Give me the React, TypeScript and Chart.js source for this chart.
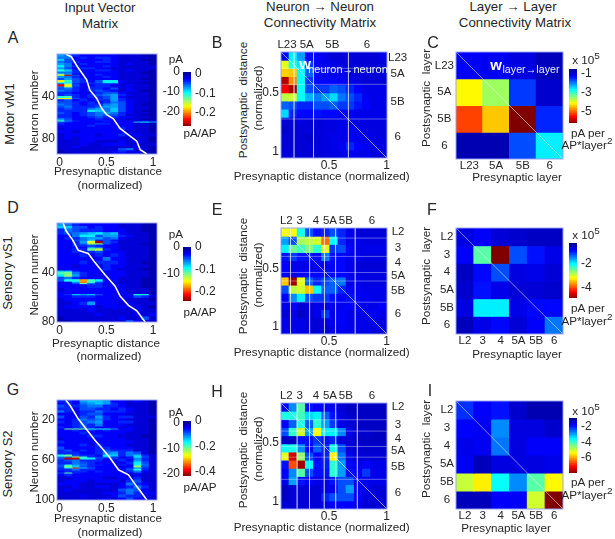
import React, { useEffect, useRef } from "react";
import { Chart, registerables } from "chart.js";

Chart.register(...registerables);

const FONT = '"Liberation Sans", Arial, sans-serif';
const INK = "#262626";

// ---------- DATA ----------
// Input vector matrices: [number of neurons in the band, one letter per presynaptic bin]. a = 0 ... z = 1 of the colour range.
const inputA: [number, string][] = [
  [2, "hgedddddcccbb"], [2, "ggdedeedccccb"], [2, "ifddddedcccbb"], [2, "gfeddeedccccb"], [2, "hgdeddddcdccb"],
  [2, "jgedddedccccc"], [2, "hfdeeddcccccc"], [2, "kieddeedcdccb"], [2, "ggedddddcccbb"], [1, "mhdddeddcccbb"],
  [1, "pxfddeddccccb"], [2, "hgedddedccccb"], [2, "fhfeddddcccbb"], [2, "qlfedfjjdcccb"], [1, "kjfeefjjdccbb"],
  [1, "gmedeeeeccccb"], [2, "wpfddeedcdccb"], [1, "gnedeeeddcccb"], [2, "fgedeedfcdccb"], [2, "gfedefedcdcbb"],
  [2, "eedddeffdcccb"], [2, "efedefghedccb"], [2, "kledeefhdcccb"], [1, "qqfedefhecccb"], [2, "efdedeehedccb"],
  [2, "ffededegfdccb"], [2, "gfedeeghfdcbb"], [2, "fgeeefhhfdccb"], [2, "efeeghgifdccb"], [2, "eeeejigifdcbb"],
  [2, "fedefghgedccb"], [2, "eedefgffeccbb"], [2, "eeddefeeddccb"], [2, "hfdddedddccbb"], [1, "lgedddedddcdc"],
  [1, "feddddddddijh"], [2, "eddddeedddccb"], [2, "ddddedddddccb"], [3, "cdddddddedccb"], [3, "ddcddddddcccb"],
  [3, "cddddcddeddcc"], [3, "cdcdddddccccb"], [3, "cccddcccdcdcb"], [3, "cccdccdddcccc"], [2, "ccdcccccccdcb"],
  [2, "ccccccccfgccb"], [2, "bccccccdedcbb"], [2, "bbcccccddcdbb"],
];
const inputD: [number, string][] = [
  [2, "hgedddddcccbb"], [2, "iiffdeddcccbb"], [3, "egfeeedddccbb"], [2, "efghijhidcccb"], [2, "ddgjjfhhedccb"],
  [2, "deeghhfgdcccb"], [1, "ddfgiefdccccb"], [2, "ddehpyfeccccb"], [1, "ddegnmfdcccbb"], [2, "ddeefeddccccb"],
  [1, "ddddhgddccccb"], [2, "ddeemoedccccb"], [2, "ddedefdddcccb"], [3, "dddedededcccb"], [3, "ddddddgddcccb"],
  [3, "dddedeeedccbb"], [3, "ddcdddeddcccb"], [2, "cdddddedcccbb"], [1, "iieddddddcccb"], [2, "lmgedddddcccb"],
  [2, "jnhedddddcccb"], [2, "fgedddddcccbb"], [2, "fkksljddcccbb"], [1, "ddhtlfddcccbb"], [1, "ddfmgeddcccbb"],
  [3, "ddddeedddccbb"], [3, "cddddddddcccb"], [2, "dddddddddcccb"], [1, "deihifddddkjc"], [2, "ddeeedddddfec"],
  [3, "cddddddddcccb"], [3, "ccdehdddcdccc"], [3, "cddddcdddcdcb"], [3, "ccccdcccccdcc"], [3, "cccccdccccdcd"],
  [3, "bcccccccdccfc"], [2, "bbcccccccfdcc"],
];
const inputG: [number, string][] = [
  [2, "eedhiihddcdcb"], [2, "dedghihedcccb"], [3, "feefggeedcccb"], [3, "eedffeededccb"], [2, "gedeegeeedccb"],
  [3, "dddeffdddcccb"], [3, "fddfehedeeccc"], [2, "ddegfgeddcccb"], [3, "edefghddeeccb"], [3, "ddefegdddcccb"],
  [2, "edefedddcdccb"], [1, "dmmmkkkhddccb"], [2, "ddedededddccb"], [3, "dddedddddcccb"], [3, "ddddeeddcccbb"],
  [3, "cddddddddcccb"], [3, "edddddddddccb"], [3, "dddededddcccb"], [3, "fddddeedddccb"], [2, "efdedefeeeccb"],
  [3, "eeeddeghegfcb"], [2, "kmfeedjiegiec"], [1, "ggoleeheddjfc"], [1, "fxxkjfefdehec"], [1, "fyykjedeedgec"],
  [2, "efgeeeddedhec"], [3, "eegfeddddejfc"], [1, "fkhgeeddedkgc"], [2, "fmifedddddnfc"], [1, "ekvifddddegec"],
  [2, "eegeeddddfkec"], [2, "deeededddegdc"], [1, "fmedddddddecc"], [3, "dedddddddcdcc"], [3, "ccddddccddecc"],
  [3, "cdddcdddcefcc"], [3, "dddcccccdgedc"], [3, "ccdccddcdegec"], [3, "cdccccccfgfdc"], [3, "ccccccddegedd"],
  [3, "cccdcccdfeedc"], [3, "bcccccdcdfddc"],
];

// White soma-position traces: [presynaptic distance, neuron number]
const traceA = [[0.065, 0], [0.126, 2.8], [0.198, 13], [0.288, 24], [0.324, 34], [0.396, 41.5], [0.45, 51], [0.504, 57], [0.576, 61], [0.647, 70], [0.737, 76], [0.827, 82], [0.863, 90], [0.935, 94]];
const traceD = [[0.036, 0], [0.072, 6.7], [0.137, 13.4], [0.198, 22], [0.306, 24.6], [0.378, 32], [0.486, 41.8], [0.594, 51], [0.647, 59], [0.737, 66.5], [0.827, 71], [0.881, 76.6], [0.917, 80]];
const traceG = [[0.065, 0], [0.115, 6], [0.198, 18.8], [0.288, 29.5], [0.378, 40.3], [0.468, 49.7], [0.54, 58], [0.63, 69.8], [0.737, 74.8], [0.827, 86.6], [0.935, 100]];

// Neuron -> neuron connectivity (fraction of colour range)
const matrixB = [
  [0.12, 0.36, 0.28, 0.13, 0.12, 0.1, 0.08, 0.08, 0.08, 0.08, 0.08, 0.08, 0.1],
  [0.6, 0.4, 0.35, 0.18, 0.12, 0.1, 0.1, 0.09, 0.08, 0.08, 0.08, 0.08, 0.08],
  [0.67, 0.68, 0.38, 0.22, 0.13, 0.11, 0.1, 0.1, 0.09, 0.08, 0.08, 0.08, 0.08],
  [0.95, 0.74, 0.38, 0.18, 0.13, 0.13, 0.13, 0.11, 0.1, 0.09, 0.08, 0.08, 0.08],
  [0.88, 0.96, 0.38, 0.2, 0.18, 0.18, 0.22, 0.2, 0.16, 0.12, 0.1, 0.1, 0.1],
  [0.56, 0.58, 0.38, 0.3, 0.25, 0.28, 0.34, 0.24, 0.2, 0.16, 0.11, 0.1, 0.1],
  [0.22, 0.2, 0.16, 0.16, 0.2, 0.2, 0.22, 0.18, 0.18, 0.14, 0.12, 0.1, 0.1],
  [0.34, 0.16, 0.13, 0.13, 0.14, 0.13, 0.13, 0.12, 0.12, 0.1, 0.1, 0.1, 0.1],
  [0.08, 0.08, 0.09, 0.08, 0.08, 0.09, 0.09, 0.1, 0.1, 0.09, 0.09, 0.09, 0.09],
  [0.07, 0.08, 0.08, 0.08, 0.08, 0.09, 0.09, 0.1, 0.11, 0.1, 0.09, 0.09, 0.09],
  [0.08, 0.08, 0.08, 0.07, 0.08, 0.09, 0.1, 0.1, 0.12, 0.11, 0.1, 0.09, 0.09],
  [0.08, 0.08, 0.08, 0.08, 0.08, 0.09, 0.1, 0.11, 0.16, 0.12, 0.11, 0.1, 0.09],
  [0.09, 0.08, 0.08, 0.08, 0.08, 0.09, 0.09, 0.1, 0.11, 0.1, 0.1, 0.09, 0.09],
];
const matrixE = [
  [0.62, 0.62, 0.4, 0.2, 0.14, 0.16, 0.2, 0.16, 0.1, 0.08, 0.08, 0.08, 0.08],
  [0.28, 0.2, 0.54, 0.56, 0.58, 0.77, 0.38, 0.16, 0.1, 0.1, 0.09, 0.09, 0.09],
  [0.36, 0.48, 0.44, 0.5, 0.42, 0.6, 0.18, 0.2, 0.12, 0.1, 0.1, 0.1, 0.1],
  [0.14, 0.18, 0.14, 0.14, 0.13, 0.25, 0.14, 0.13, 0.1, 0.1, 0.09, 0.09, 0.09],
  [0.12, 0.1, 0.1, 0.1, 0.12, 0.12, 0.12, 0.13, 0.1, 0.08, 0.08, 0.08, 0.08],
  [0.12, 0.1, 0.12, 0.13, 0.13, 0.14, 0.13, 0.13, 0.1, 0.09, 0.09, 0.09, 0.09],
  [0.68, 0.97, 0.6, 0.22, 0.16, 0.2, 0.22, 0.24, 0.1, 0.1, 0.09, 0.09, 0.09],
  [0.2, 0.56, 0.58, 0.68, 0.38, 0.22, 0.22, 0.16, 0.12, 0.11, 0.1, 0.1, 0.1],
  [0.12, 0.26, 0.36, 0.2, 0.18, 0.18, 0.14, 0.12, 0.14, 0.12, 0.11, 0.1, 0.1],
  [0.1, 0.12, 0.08, 0.08, 0.1, 0.1, 0.1, 0.11, 0.12, 0.11, 0.1, 0.1, 0.12],
  [0.08, 0.1, 0.06, 0.08, 0.1, 0.18, 0.1, 0.12, 0.1, 0.1, 0.1, 0.12, 0.1],
  [0.1, 0.1, 0.1, 0.08, 0.08, 0.1, 0.1, 0.12, 0.1, 0.1, 0.1, 0.1, 0.09],
  [0.1, 0.1, 0.1, 0.08, 0.08, 0.08, 0.09, 0.11, 0.1, 0.1, 0.1, 0.09, 0.09],
];
const matrixH = [
  [0.12, 0.26, 0.46, 0.14, 0.12, 0.12, 0.1, 0.08, 0.06, 0.06, 0.06, 0.06, 0.06],
  [0.4, 0.4, 0.44, 0.34, 0.36, 0.22, 0.14, 0.09, 0.07, 0.06, 0.06, 0.06, 0.06],
  [0.12, 0.22, 0.4, 0.22, 0.42, 0.28, 0.18, 0.1, 0.08, 0.06, 0.06, 0.06, 0.06],
  [0.2, 0.42, 0.58, 0.28, 0.62, 0.36, 0.36, 0.26, 0.1, 0.07, 0.07, 0.06, 0.06],
  [0.06, 0.06, 0.14, 0.14, 0.18, 0.14, 0.16, 0.08, 0.08, 0.06, 0.06, 0.06, 0.06],
  [0.38, 0.4, 0.26, 0.12, 0.22, 0.16, 0.4, 0.2, 0.08, 0.07, 0.07, 0.07, 0.07],
  [0.6, 0.92, 0.52, 0.2, 0.12, 0.16, 0.64, 0.24, 0.1, 0.08, 0.08, 0.08, 0.08],
  [0.14, 0.8, 0.97, 0.38, 0.14, 0.15, 0.42, 0.28, 0.12, 0.1, 0.12, 0.1, 0.1],
  [0.12, 0.26, 0.46, 0.2, 0.14, 0.14, 0.42, 0.28, 0.14, 0.12, 0.18, 0.1, 0.1],
  [0.1, 0.28, 0.14, 0.12, 0.1, 0.1, 0.14, 0.2, 0.2, 0.12, 0.1, 0.1, 0.1],
  [0.06, 0.08, 0.08, 0.08, 0.08, 0.1, 0.1, 0.2, 0.28, 0.12, 0.1, 0.08, 0.08],
  [0.06, 0.08, 0.08, 0.08, 0.08, 0.16, 0.2, 0.2, 0.2, 0.12, 0.09, 0.08, 0.08],
  [0.08, 0.08, 0.08, 0.08, 0.08, 0.1, 0.12, 0.12, 0.12, 0.1, 0.08, 0.08, 0.08],
];

// Layer -> layer connectivity (fraction of colour range)
const matrixC = [
  [0.12, 0.11, 0.09, 0.05],
  [0.63, 0.53, 0.18, 0.07],
  [0.81, 0.68, 1, 0.16],
  [0.04, 0.04, 0.2, 0.36],
];
const matrixF = [
  [0.09, 0.12, 0.08, 0.07, 0.06, 0.06],
  [0.12, 0.46, 1, 0.2, 0.14, 0.1],
  [0.06, 0.13, 0.2, 0.09, 0.1, 0.08],
  [0.07, 0.14, 0.1, 0.08, 0.08, 0.07],
  [0.09, 0.36, 0.36, 0.1, 0.13, 0.13],
  [0.05, 0.1, 0.13, 0.08, 0.12, 0.24],
];
const matrixI = [
  [0.17, 0.12, 0.14, 0.07, 0.04, 0.04],
  [0.12, 0.11, 0.26, 0.09, 0.09, 0.07],
  [0.1, 0.11, 0.24, 0.09, 0.12, 0.12],
  [0.11, 0.05, 0.09, 0.09, 0.09, 0.1],
  [0.57, 0.64, 0.38, 0.26, 0.46, 0.63],
  [0.05, 0.05, 0.12, 0.12, 0.58, 1],
];

const layers4 = ["L23", "5A", "5B", "6"];
const layers6 = ["L2", "3", "4", "5A", "5B", "6"];

// Layer label positions and layer boundaries along the normalized distance
const topTicksB = [0.057, 0.243, 0.484, 0.81];
const rightTicksB = [0.057, 0.208, 0.472, 0.802];
const vLinesB = [0.123, 0.307, 0.636];
const hLinesB = [0.154, 0.305, 0.632];
const topTicksE = [0.05, 0.177, 0.329, 0.462, 0.611, 0.858];
const rightTicksE = [0.038, 0.183, 0.331, 0.448, 0.59, 0.81];
const vLinesE = [0.09, 0.27, 0.41, 0.515, 0.7];
const hLinesE = [0.095, 0.268, 0.42, 0.5, 0.7];
const topTicksH = [0.05, 0.177, 0.329, 0.462, 0.611, 0.858];
const rightTicksH = [0.04, 0.21, 0.335, 0.455, 0.605, 0.85];
const vLinesH = [0.152, 0.269, 0.408, 0.516, 0.72];
const hLinesH = [0.158, 0.265, 0.41, 0.511, 0.72];

// Colour bar levels, top to bottom
const colorbarLevels = [0, 0.03, 0.06, 0.09, 0.12, 0.15, 0.18, 0.21, 0.24, 0.27, 0.3, 0.33, 0.36, 0.39, 0.42, 0.45, 0.48, 0.51, 0.54, 0.57, 0.6, 0.63, 0.66, 0.69, 0.72, 0.75, 0.78, 0.81, 0.84, 0.87, 0.9, 0.93, 0.96, 0.99];

// ---------- COLOUR ----------
const jetStops: [number, number[]][] = [
  [0, [0, 0, 143]], [0.125, [0, 0, 255]], [0.375, [0, 255, 255]], [0.625, [255, 255, 0]], [0.875, [255, 0, 0]], [1, [128, 0, 0]],
];
function jet(v: number) {
  const t = Math.min(1, Math.max(0, v));
  for (let i = 1; i < jetStops.length; i++) {
    if (t <= jetStops[i][0]) {
      const [a, ca] = jetStops[i - 1];
      const [b, cb] = jetStops[i];
      const f = (t - a) / (b - a);
      return `rgb(${ca.map((c, k) => Math.round(c + (cb[k] - c) * f)).join(",")})`;
    }
  }
  return "rgb(128,0,0)";
}
const letter = (ch: string) => (ch.charCodeAt(0) - 97) / 25;

// ---------- SCALES ----------
const hidden = (axis: string, min: number, max: number, reverse = false) => ({
  type: "linear", axis, display: false, min, max, reverse, offset: false, ticks: { stepSize: 1 },
});
function tickAxis(position: string, min: number, max: number, values: number[], box: number, o: any = {}) {
  return {
    type: "linear",
    axis: position === "left" || position === "right" ? "y" : "x",
    position, min, max,
    offset: false,
    reverse: !!o.reverse,
    grid: { display: false, drawTicks: false },
    border: { display: false },
    afterBuildTicks: (s: any) => { s.ticks = values.map((value) => ({ value })); },
    afterFit: (s: any) => {
      if (s.isHorizontal()) s.height = box;
      else s.width = box;
      s.paddingLeft = s.paddingRight = s.paddingTop = s.paddingBottom = 0;
    },
    ticks: {
      autoSkip: false, maxRotation: 0, minRotation: 0,
      padding: o.padding ?? 2,
      crossAlign: o.crossAlign ?? "near",
      color: INK,
      font: { family: FONT, size: o.size ?? 12 },
      callback: (v: any, i: number) => (o.labels ? o.labels[i] : String(v)),
    },
  };
}

function cellBars(rows: { span: number; cells: number[] }[]) {
  let r = 0;
  return rows.map(({ span, cells }) => {
    const lo = r;
    r += span;
    return {
      type: "bar", grouped: false, barPercentage: 1, categoryPercentage: 1, inflateAmount: 0.5,
      borderWidth: 0, xAxisID: "x", yAxisID: "y", order: 5,
      data: cells.map((_, c) => ({ x: c + 0.5, y: [lo, lo + span] })),
      backgroundColor: cells.map(jet),
    };
  });
}
const overlayLine = (pts: number[][], xAxisID: string, yAxisID: string, color: string, width: number) => ({
  type: "line", xAxisID, yAxisID, order: 1, borderColor: color, borderWidth: width,
  pointRadius: 0, tension: 0, fill: false,
  data: pts.map(([x, y]) => ({ x, y })),
});

const framePlugin = {
  id: "frame",
  afterDraw(c: any) {
    const { left, top, width, height } = c.chartArea;
    c.ctx.save();
    c.ctx.strokeStyle = "rgba(150,160,240,0.95)";
    c.ctx.lineWidth = 1;
    c.ctx.strokeRect(left, top, width, height);
    c.ctx.restore();
  },
};

const baseOptions = (scales: any, padding: any) => ({
  responsive: false, animation: false, events: [],
  layout: { padding },
  plugins: { legend: { display: false }, title: { display: false }, tooltip: { enabled: false } },
  scales,
});

type Box = { x: number; y: number; w: number; h: number };

function ChartBox({ box, m, config }: { box: Box; m: number[]; config: () => any }) {
  const ref = useRef<HTMLCanvasElement>(null);
  useEffect(() => {
    const chart = new Chart(ref.current as any, config());
    return () => chart.destroy();
  }, []);
  const [l, t, r, b] = m;
  return (
    <canvas ref={ref} width={box.w + l + r} height={box.h + t + b}
      style={{ position: "absolute", left: box.x - l, top: box.y - t, width: box.w + l + r, height: box.h + t + b }} />
  );
}

// ---------- PANELS ----------
const M_INPUT = [30, 14, 6, 18];
function inputConfig(bands: [number, string][], total: number, trace: number[][], yTicks: number[]) {
  return () => ({
    type: "bar",
    data: {
      datasets: [
        ...cellBars(bands.map(([span, s]) => ({ span, cells: s.split("").map(letter) }))),
        overlayLine(trace, "xTicks", "y", "#ffffff", 1.6),
      ],
    },
    options: baseOptions(
      {
        x: hidden("x", 0, 13),
        y: hidden("y", 0, total, true),
        xTicks: tickAxis("bottom", -0.029, 1.043, [0, 0.5, 1], M_INPUT[3], { padding: 1 }),
        yTicks: tickAxis("left", 0, total, yTicks, M_INPUT[0], { reverse: true, padding: 2 }),
      },
      { left: 0, top: M_INPUT[1], right: M_INPUT[2], bottom: 0 }
    ),
    plugins: [framePlugin],
  });
}

const M_NEURON = [30, 16, 34, 18];
function neuronConfig(matrix: number[][], topTicks: number[], topLabels: string[], rightTicks: number[], vLines: number[], hLines: number[], yMin: number, yMax: number, rightPad: number) {
  const line = "rgba(255,255,255,0.36)";
  return () => ({
    type: "bar",
    data: {
      datasets: [
        ...cellBars(matrix.map((cells) => ({ span: 1, cells }))),
        ...vLines.map((v) => overlayLine([[v, 0], [v, 1]], "xN", "yN", line, 1)),
        ...hLines.map((v) => overlayLine([[0, v], [1, v]], "xN", "yN", line, 1)),
        overlayLine([[0, 0], [1, 1]], "xN", "yN", "rgba(255,255,255,0.55)", 1),
      ],
    },
    options: baseOptions(
      {
        x: hidden("x", 0, matrix[0].length),
        y: hidden("y", 0, matrix.length, true),
        xTicks: tickAxis("bottom", 0.084, 1.003, [0.5, 1], M_NEURON[3], { padding: 0 }),
        yTicks: tickAxis("left", yMin, yMax, [0.5, 1], M_NEURON[0], { reverse: true, padding: 2 }),
        xN: tickAxis("top", 0, 1, topTicks, M_NEURON[1], { labels: topLabels, padding: 0, size: 11.5 }),
        yN: tickAxis("right", 0, 1, rightTicks, M_NEURON[2], { labels: topLabels, reverse: true, padding: rightPad, crossAlign: "center", size: 11.5 }),
      },
      0
    ),
    plugins: [framePlugin],
  });
}

const M_LAYER = [30, 6, 6, 18];
function layerConfig(matrix: number[][], labels: string[]) {
  const n = matrix.length;
  const centres = labels.map((_, i) => i + 0.5);
  return () => ({
    type: "bar",
    data: {
      datasets: [
        ...cellBars(matrix.map((cells) => ({ span: 1, cells }))),
        overlayLine([[0, 0], [n, n]], "x", "y", "rgba(255,255,255,0.5)", 1),
      ],
    },
    options: baseOptions(
      {
        x: hidden("x", 0, n),
        y: hidden("y", 0, n, true),
        xTicks: tickAxis("bottom", 0, n, centres, M_LAYER[3], { labels, padding: 0, size: 11.5 }),
        yTicks: tickAxis("left", 0, n, centres, M_LAYER[0], { labels, reverse: true, padding: 2, crossAlign: "center", size: 11.5 }),
      },
      { left: 0, top: M_LAYER[1], right: M_LAYER[2], bottom: 0 }
    ),
    plugins: [framePlugin],
  });
}

const M_BAR = [34, 10, 32, 10];
function colorbarConfig(left: any, right: any) {
  const step = colorbarLevels[1];
  return () => ({
    type: "bar",
    data: {
      datasets: colorbarLevels.map((l) => ({
        type: "bar", grouped: false, barPercentage: 1, categoryPercentage: 1, inflateAmount: 0.5,
        borderWidth: 0, xAxisID: "x", yAxisID: "y",
        data: [{ x: 0.5, y: [l, Math.min(1, l + step)] }],
        backgroundColor: jet(l + step / 2),
      })),
    },
    options: baseOptions(
      {
        x: hidden("x", 0, 1),
        y: hidden("y", 0, 1, true),
        ...(left ? { yL: tickAxis("left", left.min, left.max, left.values, M_BAR[0], { padding: 3 }) } : {}),
        yR: tickAxis("right", right.min, right.max, right.values, M_BAR[2], { padding: 4 }),
      },
      { left: left ? 0 : M_BAR[0], top: M_BAR[1], right: 0, bottom: M_BAR[3] }
    ),
  });
}

// ---------- TEXT ----------
function T({ x, y, s = 12, r, c = INK, b, children }: any) {
  return (
    <div style={{
      position: "absolute", left: x, top: y, whiteSpace: "pre", color: c, fontFamily: FONT, fontSize: s,
      fontWeight: b ? 700 : 400, lineHeight: 1,
      transform: `translate(-50%,-50%)${r ? " rotate(-90deg)" : ""}`,
    }}>{children}</div>
  );
}
const Sup = ({ children }: any) => <sup style={{ fontSize: "0.85em", lineHeight: 0 }}>{children}</sup>;

const TS = 11.7;

export default function App() {
  return (
    <div style={{ position: "absolute", left: 0, top: 0, width: 615, height: 539, overflow: "hidden", background: "#fff", filter: "blur(0.3px)" }}>
      <ChartBox box={{ x: 57, y: 54, w: 100, h: 100 }} m={M_INPUT} config={inputConfig(inputA, 94, traceA, [40, 80])} />
      <ChartBox box={{ x: 57, y: 223, w: 100, h: 99 }} m={M_INPUT} config={inputConfig(inputD, 80, traceD, [40, 80])} />
      <ChartBox box={{ x: 57, y: 400, w: 100, h: 100 }} m={M_INPUT} config={inputConfig(inputG, 100, traceG, [20, 60, 100])} />

      <ChartBox box={{ x: 183, y: 72, w: 8, h: 54 }} m={M_BAR} config={colorbarConfig({ min: -27, max: 0, values: [0, -10, -20] }, { min: -0.27, max: 0.01, values: [0, -0.1, -0.2] })} />
      <ChartBox box={{ x: 183, y: 247, w: 8, h: 54 }} m={M_BAR} config={colorbarConfig({ min: -20, max: 0, values: [0, -10] }, { min: -0.24, max: 0, values: [0, -0.1, -0.2] })} />
      <ChartBox box={{ x: 183, y: 421, w: 8, h: 55 }} m={M_BAR} config={colorbarConfig({ min: -21, max: 0.8, values: [0, -10, -20] }, { min: -0.43, max: 0, values: [0, -0.2, -0.4] })} />

      <ChartBox box={{ x: 281, y: 52, w: 106, h: 106 }} m={M_NEURON} config={neuronConfig(matrixB, topTicksB, layers4, rightTicksB, vLinesB, hLinesB, 0.153, 1.051, 1)} />
      <ChartBox box={{ x: 281, y: 228, w: 106, h: 106 }} m={M_NEURON} config={neuronConfig(matrixE, topTicksE, layers6, rightTicksE, vLinesE, hLinesE, 0.147, 1.06, 4)} />
      <ChartBox box={{ x: 281, y: 403, w: 106, h: 106 }} m={M_NEURON} config={neuronConfig(matrixH, topTicksH, layers6, rightTicksH, vLinesH, hLinesH, 0.161, 1.059, 4)} />

      <ChartBox box={{ x: 456, y: 52, w: 107, h: 107 }} m={M_LAYER} config={layerConfig(matrixC, layers4)} />
      <ChartBox box={{ x: 456, y: 228, w: 107, h: 106 }} m={M_LAYER} config={layerConfig(matrixF, layers6)} />
      <ChartBox box={{ x: 456, y: 401, w: 107, h: 108 }} m={M_LAYER} config={layerConfig(matrixI, layers6)} />

      <ChartBox box={{ x: 569, y: 69, w: 8, h: 54 }} m={M_BAR} config={colorbarConfig(null, { min: -6.16, max: -0.47, values: [-1, -3, -5] })} />
      <ChartBox box={{ x: 569, y: 243, w: 8, h: 55 }} m={M_BAR} config={colorbarConfig(null, { min: -4.83, max: -0.25, values: [-2, -4] })} />
      <ChartBox box={{ x: 569, y: 418, w: 8, h: 55 }} m={M_BAR} config={colorbarConfig(null, { min: -7.94, max: -0.84, values: [-2, -4, -6] })} />

      {/* Column headings */}
      <T x={100} y={8} s={13.3}>Input Vector</T>
      <T x={100} y={24} s={13.3}>Matrix</T>
      <T x={320} y={7} s={13.3}>Neuron → Neuron</T>
      <T x={320} y={23} s={13.3}>Connectivity Matrix</T>
      <T x={513} y={7} s={13.3}>Layer → Layer</T>
      <T x={515} y={23} s={13.3}>Connectivity Matrix</T>

      {/* Panel letters */}
      <T x={13} y={38} s={16}>A</T><T x={217} y={43} s={16}>B</T><T x={433} y={43} s={16}>C</T>
      <T x={13} y={208} s={16}>D</T><T x={217} y={210} s={16}>E</T><T x={432} y={210} s={16}>F</T>
      <T x={13} y={390} s={16}>G</T><T x={217} y={392} s={16}>H</T><T x={430} y={391} s={16}>I</T>

      {/* Row labels */}
      <T x={9} y={114} s={13} r>Motor vM1</T>
      <T x={7} y={273} s={13} r>Sensory vS1</T>
      <T x={7} y={464} s={13} r>Sensory S2</T>

      {/* Input matrix axis titles */}
      <T x={34} y={111} s={TS} r>Neuron number</T>
      <T x={34} y={275} s={TS} r>Neuron number</T>
      <T x={34} y={452} s={TS} r>Neuron number</T>
      <T x={108} y={171} s={TS}>Presynaptic distance</T><T x={110} y={185} s={TS}>(normalized)</T>
      <T x={106} y={343} s={TS}>Presynaptic distance</T><T x={109} y={356} s={TS}>(normalized)</T>
      <T x={108} y={518} s={TS}>Presynaptic distance</T><T x={110} y={532} s={TS}>(normalized)</T>

      {/* Colour bar captions */}
      <T x={176} y={59} s={TS}>pA</T><T x={200} y={133} s={TS}>pA/AP</T>
      <T x={176} y={234} s={TS}>pA</T><T x={200} y={312} s={TS}>pA/AP</T>
      <T x={176} y={412} s={TS}>pA</T><T x={200} y={487} s={TS}>pA/AP</T>

      {/* Neuron matrix axis titles */}
      <T x={243} y={100} s={TS} r>Postsynaptic  distance</T><T x={258} y={98} s={TS} r>(normalized)</T>
      <T x={243} y={276} s={TS} r>Postsynaptic  distance</T><T x={258} y={275} s={TS} r>(normalized)</T>
      <T x={243} y={450} s={TS} r>Postsynaptic  distance</T><T x={258} y={449} s={TS} r>(normalized)</T>
      <T x={321.7} y={176} s={TS}>Presynaptic distance (normalized)</T>
      <T x={321.7} y={352} s={TS}>Presynaptic distance (normalized)</T>
      <T x={321.7} y={527} s={TS}>Presynaptic distance (normalized)</T>

      {/* Layer matrix axis titles */}
      <T x={426} y={98} s={TS} r>Postsynaptic  layer</T>
      <T x={426} y={276} s={TS} r>Postsynaptic  layer</T>
      <T x={426} y={449} s={TS} r>Postsynaptic  layer</T>
      <T x={517} y={177} s={TS}>Presynaptic layer</T>
      <T x={517} y={354} s={TS}>Presynaptic layer</T>
      <T x={506} y={528} s={TS}>Presynaptic layer</T>

      {/* Layer colour bar captions */}
      <T x={586} y={60} s={TS}>x 10<Sup>5</Sup></T>
      <T x={586} y={235} s={TS}>x 10<Sup>5</Sup></T>
      <T x={586} y={411} s={TS}>x 10<Sup>5</Sup></T>
      <T x={588} y={133} s={TS}>pA per</T><T x={587} y={145} s={TS}>AP*layer<Sup>2</Sup></T>
      <T x={588} y={308} s={TS}>pA per</T><T x={587} y={321} s={TS}>AP*layer<Sup>2</Sup></T>
      <T x={588} y={482} s={TS}>pA per</T><T x={587} y={495} s={TS}>AP*layer<Sup>2</Sup></T>

      {/* Weight labels over the matrices */}
      <T x={305} y={63} s={15} b c="#ffffff">w</T>
      <T x={348} y={69} s={11} c="#e8f0ff">neuron→neuron</T>
      <T x={496} y={64} s={15} b c="#ffffff">w</T>
      <T x={531} y={69} s={10.7} c="#e8f0ff">layer→layer</T>
    </div>
  );
}
